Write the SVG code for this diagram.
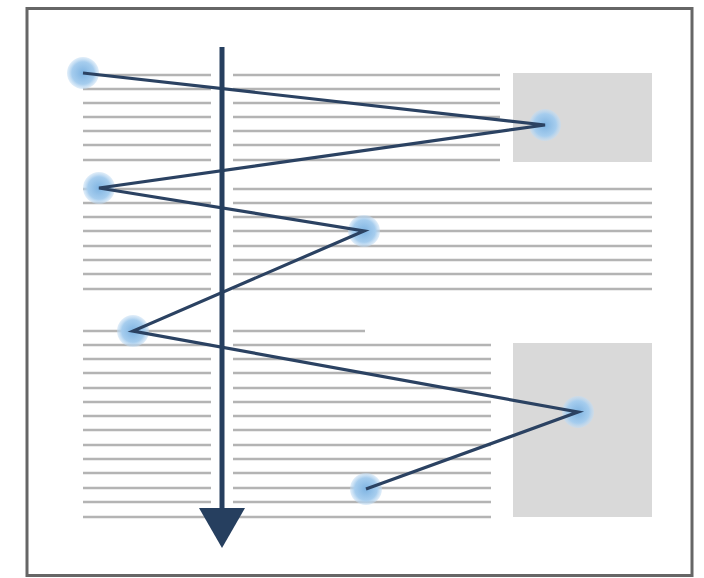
<svg xmlns="http://www.w3.org/2000/svg" width="704" height="578" viewBox="0 0 704 578">
<defs>
<radialGradient id="dot" cx="0.5" cy="0.5" r="0.5">
<stop offset="0" stop-color="#7fb4e2"/>
<stop offset="0.7" stop-color="#a6cdee"/>
<stop offset="1" stop-color="#c4ddf3" stop-opacity="0.5"/>
</radialGradient>
<marker id="head" markerUnits="userSpaceOnUse" markerWidth="40" markerHeight="46" refX="4" refY="23" orient="auto" viewBox="0 0 40 46">
<path d="M0,0 L40,23 L0,46 Z" fill="#263f5f"/>
</marker>
</defs>
<style>
.ln{stroke:#b4b4b4;stroke-width:2.6;fill:none}
.box{fill:#d9d9d9}
.node{fill:url(#dot)}
.path{stroke:#2b4262;stroke-width:3.2;fill:none;stroke-linejoin:miter}
.arrow{stroke:#263f5f;stroke-width:5;fill:none}
</style>
<rect x="0" y="0" width="704" height="578" fill="#ffffff"/>
<rect x="27" y="8.5" width="665" height="567" fill="#ffffff" stroke="#666666" stroke-width="3"/>
<g id="page">
<rect class="box" x="513" y="73" width="139" height="89"/>
<rect class="box" x="513" y="343" width="139" height="174"/>
<path class="ln" d="M83 75H211M233 75H500M83 89H211M233 89H500M83 103H211M233 103H500M83 117H211M233 117H500M83 131H211M233 131H500M83 145H211M233 145H500M83 160H211M233 160H500"/>
<path class="ln" d="M83 189H211M233 189H652M83 203H211M233 203H652M83 217H211M233 217H652M83 231H211M233 231H652M83 246H211M233 246H652M83 260H211M233 260H652M83 274H211M233 274H652M83 289H211M233 289H652"/>
<path class="ln" d="M83 331H211M233 331H365M83 345H211M233 345H491M83 359H211M233 359H491M83 373H211M233 373H491M83 388H211M233 388H491M83 402H211M233 402H491M83 416H211M233 416H491M83 430H211M233 430H491M83 445H211M233 445H491M83 459H211M233 459H491M83 473H211M233 473H491M83 488H211M233 488H491M83 502H211M233 502H491M83 517H211M233 517H491"/>
</g>
<g id="n1"><circle class="node" cx="83" cy="73" r="16"/></g>
<g id="n2"><circle class="node" cx="545" cy="125" r="16"/></g>
<g id="n3"><circle class="node" cx="99" cy="188" r="16"/></g>
<g id="n4"><circle class="node" cx="364" cy="231" r="16"/></g>
<g id="n5"><circle class="node" cx="133" cy="331" r="16"/></g>
<g id="n6"><circle class="node" cx="578" cy="412" r="16"/></g>
<g id="n7"><circle class="node" cx="366" cy="489" r="16"/></g>
<g id="connectors">
<polyline class="path" points="83,73 545,125 99,188 364,231 133,331 578,412 366,489"/>
<line class="arrow" x1="222" y1="47" x2="222" y2="512" marker-end="url(#head)"/>
</g>
</svg>
